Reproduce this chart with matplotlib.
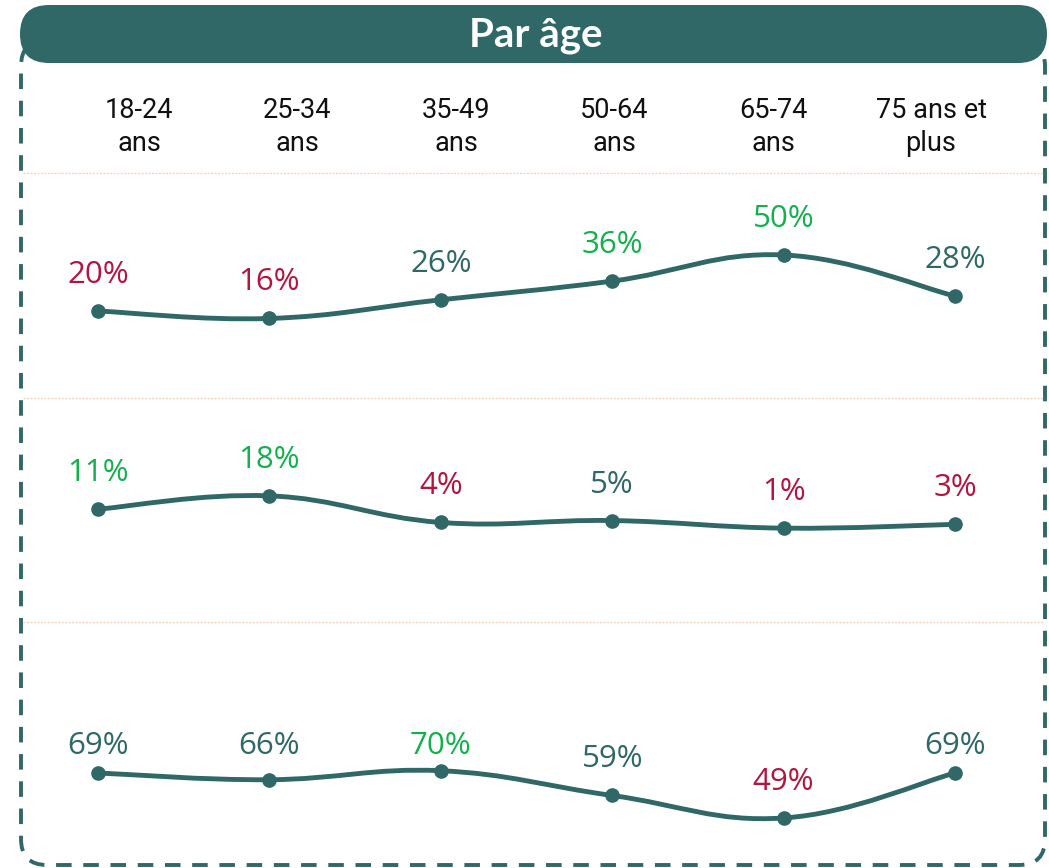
import numpy as np
import matplotlib.pyplot as plt
from matplotlib.patches import FancyBboxPatch, PathPatch
from matplotlib.path import Path

# --- data -------------------------------------------------------------
age_groups = ["18-24\nans", "25-34\nans", "35-49\nans", "50-64\nans", "65-74\nans", "75 ans et\nplus"]
row1 = [20, 16, 26, 36, 50, 28]
row2 = [11, 18, 4, 5, 1, 3]
row3 = [69, 66, 70, 59, 49, 69]
# label tone: "up" = green, "down" = red, "flat" = teal
tone1 = ["down", "down", "flat", "up", "up", "flat"]
tone2 = ["up", "up", "down", "flat", "down", "down"]
tone3 = ["flat", "flat", "up", "flat", "down", "flat"]

TEAL = "#2f6866"
GREEN = "#14b04e"
RED = "#b0163f"
SEP = "#f3d6c2"
tone_color = {"up": GREEN, "down": RED, "flat": TEAL}

W, H = 1049, 868
fig = plt.figure(figsize=(W / 100, H / 100), dpi=100)

# background axes in pixel coords for frame / header
bg = fig.add_axes([0, 0, 1, 1])
bg.set_xlim(0, W)
bg.set_ylim(H, 0)
bg.axis("off")

# dashed rounded frame
frame = FancyBboxPatch((21, 40), 1024, 825, boxstyle="round,pad=0,rounding_size=26",
                       fill=False, edgecolor=TEAL, lw=2.8, linestyle=(0, (4, 3)))
bg.add_patch(frame)
# header bar
header = FancyBboxPatch((20, 5), 1027, 58, boxstyle="round,pad=0,rounding_size=29",
                        facecolor=TEAL, edgecolor="none", zorder=3)
bg.add_patch(header)
bg.text(536, 35, "Par âge", color="white", fontsize=29, fontweight="bold",
        family="Lato", ha="center", va="center", zorder=4)

# separators
for yy in [173, 398, 622]:
    bg.plot([23, 1044], [yy, yy], color=SEP, lw=1, linestyle=(0, (1.5, 1)))

# column headers
hx = [139, 297, 456, 614, 773, 931]
for x, lab in zip(hx, age_groups):
    bg.text(x, 127, lab, ha="center", va="center", fontsize=19.5, family="Roboto",
            color="#111111", linespacing=1.32)


def smooth_path(xs, ys, t=0.2):
    # cubic bezier through the points (catmull-rom style handles)
    verts = [(xs[0], ys[0])]
    codes = [Path.MOVETO]
    n = len(xs)
    for i in range(n - 1):
        p0 = (xs[max(i - 1, 0)], ys[max(i - 1, 0)])
        p1 = (xs[i], ys[i])
        p2 = (xs[i + 1], ys[i + 1])
        p3 = (xs[min(i + 2, n - 1)], ys[min(i + 2, n - 1)])
        c1 = (p1[0] + (p2[0] - p0[0]) * t, p1[1] + (p2[1] - p0[1]) * t)
        c2 = (p2[0] - (p3[0] - p1[0]) * t, p2[1] - (p3[1] - p1[1]) * t)
        verts += [c1, c2, p2]
        codes += [Path.CURVE4] * 3
    return Path(verts, codes)


# panel axes: (top px, bottom px, ylim, label ceiling px)
panels = [
    (173, 398, (-26.6, 93.9), row1, tone1, None),
    (398, 622, (-48.4, 69.5), row2, tone2, None),
    (622, 865, (28.1, 136.1), row3, tone3, 746),
]
x_left, x_right = 20, 1045
p0, step = 98, 171.4
xlim = ((x_left - p0) / step, (x_right - p0) / step)
xs = np.arange(len(age_groups))
label_gap = 36  # px above the point

for top, bot, ylim, vals, tones, ceil_px in panels:
    ax = fig.add_axes([x_left / W, 1 - bot / H, (x_right - x_left) / W, (bot - top) / H])
    ax.set_xlim(*xlim)
    ax.set_ylim(*ylim)
    ax.axis("off")
    ax.patch.set_alpha(0)
    ax.add_patch(PathPatch(smooth_path(xs, vals), fill=False, edgecolor=TEAL, lw=3.5,
                           capstyle="round", zorder=2))
    ax.plot(xs, vals, "o", color=TEAL, ms=9.5, zorder=3)
    per_px = (ylim[1] - ylim[0]) / (bot - top)
    ceil = None if ceil_px is None else ylim[1] - (ceil_px - top) * per_px
    for x, v, tn in zip(xs, vals, tones):
        ly = v + label_gap * per_px
        if ceil is not None:
            ly = min(ly, ceil)
        ax.text(x, ly, f"{v}%", ha="center", va="center", fontsize=22.5,
                family="Open Sans", color=tone_color[tn])

fig.savefig("out.png", dpi=100)
